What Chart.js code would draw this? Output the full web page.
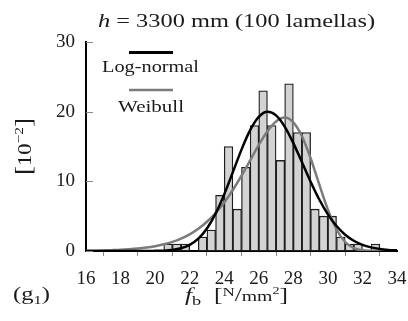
<!DOCTYPE html>
<html>
<head>
<meta charset="utf-8">
<script src="https://cdn.jsdelivr.net/npm/chart.js@4.4.1/dist/chart.umd.min.js"></script>
<style>
body { margin: 0; background: #fff; }
#wrap { width: 408px; height: 321px; position: relative; }
</style>
</head>
<body>
<div id="wrap"><canvas id="grafico"></canvas></div>
<script>
// histograma: centros de clase (ancho 0.5) y alturas en 10^-2
var binCentros = [20.75, 21.25, 21.75, 22.25, 22.75, 23.25, 23.75, 24.25, 24.75, 25.25, 25.75, 26.25, 26.75,
    27.25, 27.75, 28.25, 28.75, 29.25, 29.75, 30.25, 30.75, 31.25, 31.75, 32.25, 32.75]
var binAltos = [1, 1, 1, 0, 2, 3, 8, 15, 6, 12, 18, 23, 18,
    13, 24, 17, 17, 6, 5, 5, 2, 1, 1, 0, 1]

// curvas ajustadas
var curvaX = [16, 16.5, 17, 17.5, 18, 18.5, 19, 19.5, 20, 20.5, 21, 21.5, 22, 22.5, 23, 23.5, 24, 24.5, 25,
    25.5, 26, 26.5, 27, 27.5, 28, 28.5, 29, 29.5, 30, 30.5, 31, 31.5, 32, 32.5, 33, 33.5, 34]
var logNormal = [0, 0, 0, 0, 0, 0, 0, 0, 0.02, 0.05, 0.15, 0.39, 0.87, 1.77, 3.23, 5.36, 8.13, 11.32, 14.55,
    17.34, 19.25, 19.98, 19.47, 17.86, 15.49, 12.73, 9.94, 7.39, 5.26, 3.58, 2.34, 1.47, 0.89, 0.52, 0.29, 0.16, 0.09]
var weibull = [0.04, 0.05, 0.08, 0.12, 0.17, 0.25, 0.35, 0.49, 0.69, 0.96, 1.31, 1.78, 2.39, 3.19, 4.20, 5.45, 6.97, 8.76, 10.81,
    13.00, 15.23, 17.19, 18.60, 19.16, 18.47, 16.47, 13.32, 9.56, 5.94, 3.09, 1.29, 0.41, 0.10, 0.02, 0, 0, 0]

var ticksX = [16, 18, 20, 22, 24, 26, 28, 30, 32, 34]
var ticksY = [0, 10, 20, 30]

const FUENTE = '"Liberation Serif", "DejaVu Serif", serif'

function puntos(xs, ys) {
    return xs.map(function (x, i) { return { x: x, y: ys[i] } })
}

// dibuja un texto en trozos (cursiva, subindices...) ajustado a un ancho
function corrida(ctx, partes, x, y, ancho, alinear) {
    var total = 0
    partes.forEach(function (p) {
        ctx.font = (p[2] || 'normal') + ' ' + p[1] + 'px ' + FUENTE
        p.w = ctx.measureText(p[0]).width
        total += p.w
    })
    var sx = ancho ? ancho / total : 1
    var cx = alinear === 'center' ? x - total * sx / 2 : x
    partes.forEach(function (p) {
        ctx.save()
        ctx.font = (p[2] || 'normal') + ' ' + p[1] + 'px ' + FUENTE
        ctx.translate(cx, y + (p[3] || 0))
        ctx.scale(sx, 1)
        ctx.textAlign = 'left'
        ctx.textBaseline = 'alphabetic'
        ctx.fillText(p[0], 0, 0)
        ctx.restore()
        cx += p.w * sx
    })
}

const rotulos = {
    id: 'rotulos',
    afterDraw: function (chart) {
        var ctx = chart.ctx
        var a = chart.chartArea
        var ey = chart.scales.y
        ctx.save()
        // marcas hacia dentro en el eje y
        ctx.strokeStyle = '#8a8a8a'
        ctx.lineWidth = 1
        ticksY.forEach(function (v) {
            var py = Math.round(ey.getPixelForValue(v)) + 0.5
            ctx.beginPath()
            ctx.moveTo(a.left, py)
            ctx.lineTo(a.left + 7, py)
            ctx.stroke()
        })
        // leyenda
        ctx.lineCap = 'butt'
        ctx.strokeStyle = '#000'
        ctx.lineWidth = 3
        ctx.beginPath(); ctx.moveTo(129, 52.5); ctx.lineTo(173, 52.5); ctx.stroke()
        ctx.strokeStyle = '#7b7b7b'
        ctx.lineWidth = 2.5
        ctx.beginPath(); ctx.moveTo(129, 90); ctx.lineTo(173, 90); ctx.stroke()

        ctx.fillStyle = '#1a1a1a'
        corrida(ctx, [['Log-normal', 17]], 150.5, 71.5, 97, 'center')
        corrida(ctx, [['Weibull', 17]], 151, 111.5, 66, 'center')

        // titulo
        corrida(ctx, [['h', 19, 'italic'], [' = 3300 mm (100 lamellas)', 19]], 236.5, 27, 277, 'center')

        // titulo eje x
        corrida(ctx, [['f', 18, 'italic'], ['b', 13, 'normal', 4], ['  [', 18], ['N', 12, 'normal', -5], ['/', 18],
            ['mm', 14], ['2', 10, 'normal', -7], [']', 18]], 236.5, 301, 103, 'center')

        // (g1)
        corrida(ctx, [['(g', 18], ['1', 12, 'normal', 4], [')', 18]], 13, 300, 37, 'left')

        // titulo eje y, girado
        ctx.translate(23, 146.5)
        ctx.rotate(-Math.PI / 2)
        corrida(ctx, [['[', 23], ['10', 19], ['\u22122', 13, 'normal', -8], [']', 23]], 0, 8, 57, 'center')
        ctx.restore()
    }
}

const datos = {
    datasets: [{
        type: 'line',
        label: 'Log-normal',
        data: puntos(curvaX, logNormal),
        borderColor: '#000',
        borderWidth: 2.5,
        pointRadius: 0,
        cubicInterpolationMode: 'monotone',
        fill: false,
        order: 0
    }, {
        type: 'line',
        label: 'Weibull',
        data: puntos(curvaX, weibull),
        borderColor: '#7b7b7b',
        borderWidth: 2.5,
        pointRadius: 0,
        cubicInterpolationMode: 'monotone',
        fill: false,
        order: 1
    }, {
        type: 'bar',
        label: 'Histograma',
        data: puntos(binCentros, binAltos),
        backgroundColor: '#d3d3d3',
        borderColor: '#1e1e1e',
        borderWidth: 1.3,
        borderSkipped: false,
        barPercentage: 1,
        categoryPercentage: 1,
        order: 2
    }]
}

const config = {
    type: 'bar',
    data: datos,
    plugins: [rotulos],
    options: {
        responsive: true,
        maintainAspectRatio: false,
        animation: false,
        layout: { padding: { top: 42, right: 11, left: 0, bottom: 0 } },
        plugins: { legend: { display: false }, tooltip: { enabled: false } },
        scales: {
            x: {
                type: 'linear',
                min: 16,
                max: 34,
                offset: false,
                afterBuildTicks: function (s) { s.ticks = ticksX.map(function (v) { return { value: v } }) },
                afterFit: function (s) { s.height = 70; s.paddingLeft = 0; s.paddingRight = 0 },
                grid: { display: true, drawOnChartArea: false, drawTicks: true, tickLength: 5, color: '#8a8a8a', lineWidth: 1 },
                border: { display: true, color: '#000', width: 2 },
                ticks: { color: '#1a1a1a', font: { family: FUENTE, size: 19 }, padding: 12, maxRotation: 0, autoSkip: false }
            },
            y: {
                type: 'linear',
                min: 0,
                max: 30,
                afterBuildTicks: function (s) { s.ticks = ticksY.map(function (v) { return { value: v } }) },
                afterFit: function (s) { s.width = 86; s.paddingTop = 0; s.paddingBottom = 0 },
                grid: { display: false, drawTicks: false },
                border: { display: true, color: '#000', width: 2 },
                ticks: { color: '#1a1a1a', font: { family: FUENTE, size: 19 }, padding: 11 }
            }
        }
    }
}

const miGrafico = new Chart(document.getElementById('grafico'), config)
</script>
</body>
</html>
